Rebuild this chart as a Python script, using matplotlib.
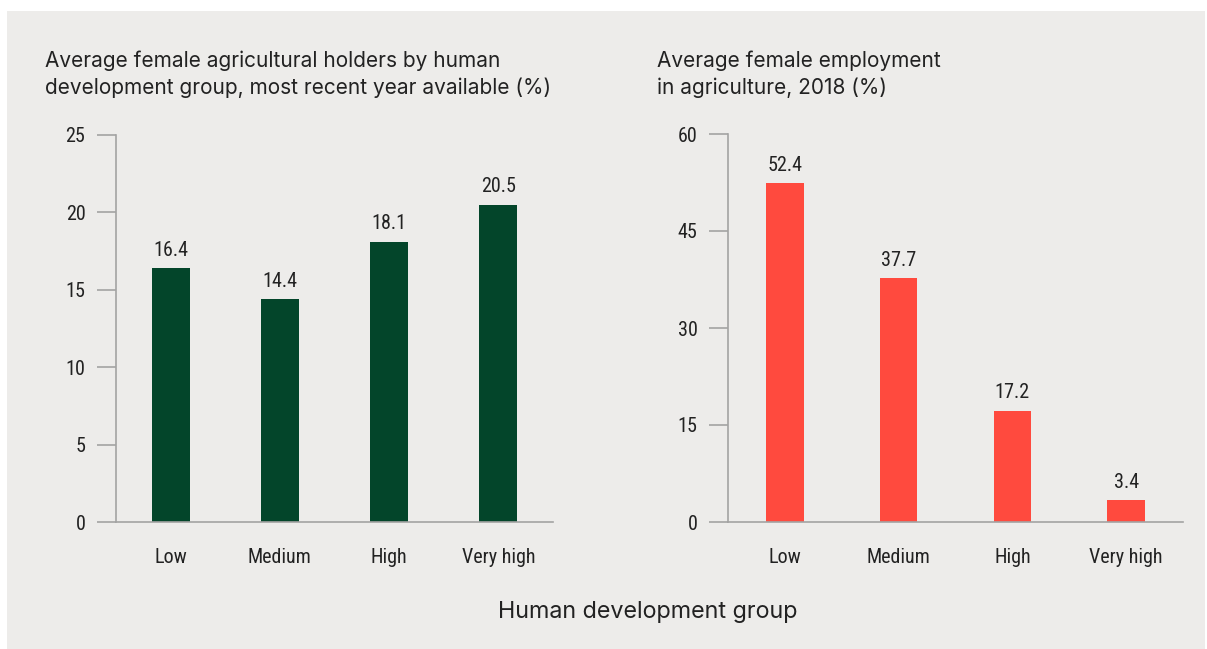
import matplotlib
matplotlib.use('Agg')
import matplotlib.pyplot as plt
from matplotlib.patches import Rectangle

plt.rcParams.update({
    'font.family': ['Inter', 'DejaVu Sans'],
    'axes.unicode_minus': False,
})

groups = ['Low', 'Medium', 'High', 'Very high']
holders = [16.4, 14.4, 18.1, 20.5]
employment = [52.4, 37.7, 17.2, 3.4]
holders_ticks = [0, 5, 10, 15, 20, 25]
employment_ticks = [0, 15, 30, 45, 60]

BG = '#edecea'
GREEN = '#03452a'
RED = '#ff4a3e'
AXIS = '#a3a3a3'
TXT = '#222222'
NARROW = ['Liberation Sans Narrow', 'Roboto Condensed', 'Roboto', 'DejaVu Sans']

W, H = 1207, 649
fig = plt.figure(figsize=(W / 100, H / 100), dpi=100)
fig.patch.set_facecolor('white')
fig.patches.append(Rectangle((7 / W, 0), (1205 - 7) / W, (H - 11) / H,
                             transform=fig.transFigure, facecolor=BG,
                             edgecolor='none', zorder=-10))


def px_axes(x0, x1, y0, y1):
    return fig.add_axes([x0 / W, 1 - y1 / H, (x1 - x0) / W, (y1 - y0) / H])


def draw(ax, vals, ticks, color, width):
    ax.set_facecolor('none')
    x = range(len(vals))
    ax.bar(x, vals, width=width, color=color, zorder=2)
    ax.set_xlim(-0.5, len(vals) - 0.5)
    ax.set_ylim(0, ticks[-1])
    ax.set_yticks(ticks)
    ax.set_xticks(list(x))
    ax.set_xticklabels(groups)
    for s in ['top', 'right']:
        ax.spines[s].set_visible(False)
    for s in ['left', 'bottom']:
        ax.spines[s].set_color(AXIS)
        ax.spines[s].set_linewidth(1.2)
    ax.tick_params(axis='y', length=14, width=1.2, color=AXIS, pad=8,
                   labelsize=14.5, labelcolor=TXT)
    ax.tick_params(axis='x', length=0, pad=19, labelsize=14.5, labelcolor=TXT)
    for lab in ax.get_xticklabels() + ax.get_yticklabels():
        lab.set_family(NARROW)
    for i, v in enumerate(vals):
        ax.annotate(f'{v:.1f}', (i, v), xytext=(0, 6), textcoords='offset points',
                    ha='center', va='bottom', fontsize=14.5, color=TXT, family=NARROW)


ax1 = px_axes(116, 553, 135, 522)
draw(ax1, holders, holders_ticks, GREEN, 0.35)
ax2 = px_axes(728, 1183, 134, 522)
draw(ax2, employment, employment_ticks, RED, 0.33)

fig.text(45 / W, 1 - 74 / H, 'Average female agricultural holders by human\ndevelopment group, most recent year available (%)',
         ha='left', va='center', fontsize=15, color=TXT, linespacing=1.4)
fig.text(657 / W, 1 - 74 / H, 'Average female employment\nin agriculture, 2018 (%)',
         ha='left', va='center', fontsize=15, color=TXT, linespacing=1.4)
fig.text(648 / W, 1 - 612 / H, 'Human development group',
         ha='center', va='center', fontsize=16.8, color=TXT)

fig.savefig('out.png', dpi=100, facecolor=fig.get_facecolor())
